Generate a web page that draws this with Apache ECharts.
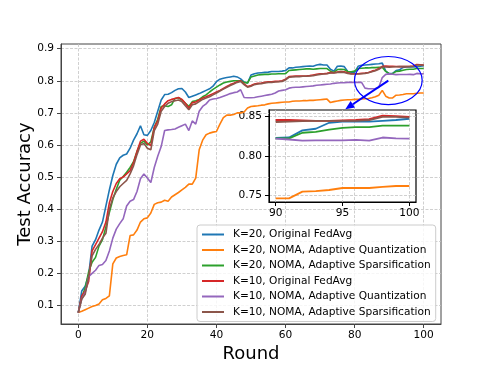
<!DOCTYPE html>
<html lang="en">
<head>
    <meta charset="UTF-8">
    <title>Test Accuracy vs Round</title>
    <script src="https://cdn.jsdelivr.net/npm/echarts@6/dist/echarts.min.js"></script>
    <style>
        body { margin: 0; background: #fff; }
        #main { width: 490px; height: 368px; }
    </style>
</head>
<body>
    <div id="main"></div>
    <script>
        // accuracy per round (rounds 0..100)
        const accK20FedAvg = [
            0.078, 0.145, 0.160, 0.195, 0.285, 0.305, 0.335, 0.360, 0.410, 0.460,
            0.505, 0.540, 0.560, 0.568, 0.572, 0.590, 0.615, 0.635, 0.660, 0.632,
            0.630, 0.645, 0.670, 0.705, 0.740, 0.757, 0.758, 0.763, 0.770, 0.775,
            0.776, 0.765, 0.748, 0.752, 0.756, 0.760, 0.765, 0.770, 0.775, 0.783,
            0.797, 0.805, 0.808, 0.810, 0.812, 0.814, 0.812, 0.806, 0.796, 0.793,
            0.818, 0.822, 0.824, 0.825, 0.826, 0.827, 0.829, 0.829, 0.829, 0.830,
            0.832, 0.840, 0.840, 0.842, 0.843, 0.844, 0.845, 0.846, 0.845, 0.849,
            0.851, 0.849, 0.849, 0.836, 0.830, 0.845, 0.846, 0.844, 0.829, 0.827,
            0.826, 0.845, 0.848, 0.849, 0.850, 0.851, 0.852, 0.853, 0.855, 0.830,
            0.8225, 0.823, 0.832, 0.834, 0.8415, 0.843, 0.843, 0.843, 0.844, 0.845, 0.8466
        ];
        const accK20Quant = [
            0.078, 0.082, 0.087, 0.092, 0.097, 0.100, 0.105, 0.118, 0.122, 0.130,
            0.230, 0.248, 0.253, 0.256, 0.258, 0.318, 0.320, 0.335, 0.360, 0.370,
            0.373, 0.388, 0.415, 0.420, 0.422, 0.428, 0.425, 0.438, 0.445, 0.452,
            0.460, 0.468, 0.478, 0.478, 0.497, 0.585, 0.615, 0.632, 0.637, 0.640,
            0.642, 0.665, 0.685, 0.693, 0.693, 0.695, 0.700, 0.700, 0.703, 0.715,
            0.720, 0.721, 0.722, 0.724, 0.725, 0.728, 0.730, 0.731, 0.732, 0.733,
            0.734, 0.734, 0.736, 0.737, 0.737, 0.738, 0.738, 0.739, 0.739, 0.740,
            0.741, 0.742, 0.743, 0.732, 0.735, 0.737, 0.739, 0.740, 0.741, 0.741,
            0.742, 0.742, 0.743, 0.744, 0.745, 0.747, 0.750, 0.755, 0.770, 0.752,
            0.7465, 0.7465, 0.755, 0.7555, 0.757, 0.7595, 0.7595, 0.7595, 0.761, 0.762, 0.762
        ];
        const accK20Sparse = [
            0.078, 0.125, 0.155, 0.205, 0.235, 0.250, 0.285, 0.305, 0.345, 0.390,
            0.430, 0.462, 0.490, 0.502, 0.515, 0.530, 0.548, 0.580, 0.605, 0.612,
            0.600, 0.610, 0.655, 0.680, 0.720, 0.722, 0.720, 0.725, 0.745, 0.747,
            0.740, 0.730, 0.720, 0.735, 0.738, 0.742, 0.750, 0.756, 0.765, 0.773,
            0.780, 0.787, 0.793, 0.796, 0.798, 0.800, 0.800, 0.800, 0.795, 0.793,
            0.812, 0.815, 0.818, 0.819, 0.820, 0.820, 0.821, 0.821, 0.822, 0.822,
            0.822, 0.832, 0.833, 0.834, 0.835, 0.836, 0.837, 0.837, 0.836, 0.837,
            0.838, 0.838, 0.838, 0.830, 0.826, 0.835, 0.836, 0.835, 0.829, 0.828,
            0.830, 0.838, 0.839, 0.840, 0.840, 0.841, 0.841, 0.842, 0.842, 0.829,
            0.822, 0.822, 0.829, 0.830, 0.833, 0.835, 0.836, 0.836, 0.838, 0.838, 0.838
        ];
        const accK10FedAvg = [
            0.078, 0.130, 0.145, 0.175, 0.270, 0.290, 0.310, 0.330, 0.360, 0.420,
            0.455, 0.480, 0.495, 0.500, 0.510, 0.520, 0.545, 0.580, 0.612, 0.618,
            0.605, 0.598, 0.655, 0.675, 0.715, 0.728, 0.738, 0.742, 0.745, 0.748,
            0.742, 0.730, 0.715, 0.732, 0.734, 0.740, 0.746, 0.750, 0.755, 0.760,
            0.765, 0.770, 0.776, 0.782, 0.788, 0.792, 0.797, 0.800, 0.790, 0.782,
            0.785, 0.790, 0.792, 0.793, 0.795, 0.797, 0.797, 0.798, 0.798, 0.800,
            0.805, 0.813, 0.814, 0.815, 0.815, 0.815, 0.815, 0.816, 0.818, 0.820,
            0.822, 0.822, 0.823, 0.826, 0.825, 0.827, 0.829, 0.828, 0.825, 0.822,
            0.822, 0.822, 0.823, 0.824, 0.826, 0.830, 0.833, 0.838, 0.845, 0.846,
            0.845, 0.845, 0.8445, 0.844, 0.844, 0.8445, 0.845, 0.846, 0.8505, 0.850, 0.849
        ];
        const accK10Quant = [
            0.078, 0.120, 0.140, 0.190, 0.200, 0.210, 0.225, 0.228, 0.240, 0.270,
            0.310, 0.338, 0.355, 0.370, 0.410, 0.425, 0.430, 0.455, 0.495, 0.510,
            0.497, 0.483, 0.530, 0.565, 0.595, 0.645, 0.647, 0.648, 0.650, 0.655,
            0.660, 0.665, 0.645, 0.675, 0.665, 0.705, 0.720, 0.728, 0.740, 0.743,
            0.745, 0.748, 0.752, 0.756, 0.760, 0.763, 0.765, 0.772, 0.748, 0.747,
            0.747, 0.748, 0.750, 0.752, 0.754, 0.756, 0.758, 0.762, 0.768, 0.770,
            0.772, 0.777, 0.779, 0.780, 0.780, 0.781, 0.782, 0.783, 0.784, 0.786,
            0.787, 0.788, 0.789, 0.790, 0.792, 0.793, 0.794, 0.794, 0.795, 0.795,
            0.795, 0.795, 0.795, 0.777, 0.775, 0.775, 0.776, 0.780, 0.810, 0.820,
            0.8215, 0.8205, 0.819, 0.8195, 0.8195, 0.8195, 0.820, 0.819, 0.823, 0.822, 0.8215
        ];
        const accK10Sparse = [
            0.078, 0.120, 0.135, 0.190, 0.255, 0.275, 0.290, 0.310, 0.325, 0.400,
            0.435, 0.455, 0.470, 0.480, 0.490, 0.510, 0.535, 0.570, 0.600, 0.605,
            0.590, 0.585, 0.645, 0.665, 0.705, 0.720, 0.730, 0.735, 0.738, 0.740,
            0.735, 0.722, 0.710, 0.725, 0.728, 0.735, 0.742, 0.746, 0.750, 0.756,
            0.762, 0.768, 0.774, 0.780, 0.785, 0.790, 0.795, 0.798, 0.788, 0.780,
            0.783, 0.788, 0.790, 0.791, 0.793, 0.795, 0.795, 0.796, 0.797, 0.798,
            0.803, 0.811, 0.812, 0.813, 0.813, 0.814, 0.814, 0.815, 0.816, 0.818,
            0.820, 0.821, 0.822, 0.824, 0.824, 0.826, 0.827, 0.826, 0.823, 0.821,
            0.821, 0.821, 0.822, 0.823, 0.825, 0.828, 0.831, 0.836, 0.843, 0.843,
            0.8425, 0.843, 0.8435, 0.844, 0.844, 0.844, 0.844, 0.845, 0.849, 0.849, 0.848
        ];

        const seriesNames = [
            'K=20, Original FedAvg',
            'K=20, NOMA, Adaptive Quantization',
            'K=20, NOMA, Adaptive Sparsification',
            'K=10, Original FedAvg',
            'K=10, NOMA, Adaptive Quantization',
            'K=10, NOMA, Adaptive Sparsification'
        ];
        const seriesData = [accK20FedAvg, accK20Quant, accK20Sparse, accK10FedAvg, accK10Quant, accK10Sparse];
        const colors = ['#1f77b4', '#ff7f0e', '#2ca02c', '#d62728', '#9467bd', '#8c564b'];

        const xTicks = [0, 20, 40, 60, 80, 100];
        const yTicks = [0.1, 0.2, 0.3, 0.4, 0.5, 0.6, 0.7, 0.8, 0.9];
        const insetXTicks = [90, 95, 100];
        const insetYTicks = [0.75, 0.80, 0.85];
        const insetStart = 90;

        // zoom annotation, in main-axes data units
        const zoomCenter = [89.75, 0.8006];
        const zoomRadius = [9.8, 0.075];
        const arrowEnd = [77.3, 0.7114];

        const font = 'DejaVu Sans';
        const gridLine = { show: true, lineStyle: { type: [3, 1.5], color: '#c4c4c4', width: 0.8 } };

        function toPairs(arr, from) {
            return arr.slice(from).map((v, i) => [from + i, v]);
        }

        const chart = echarts.init(document.getElementById('main'));

        const series = [];
        seriesData.forEach((arr, i) => {
            series.push({
                name: seriesNames[i], type: 'line', xAxisIndex: 0, yAxisIndex: 0,
                data: toPairs(arr, 0), showSymbol: false, symbol: 'none',
                lineStyle: { width: 1.6, color: colors[i] }, itemStyle: { color: colors[i] },
                z: 2 + i
            });
        });
        seriesData.forEach((arr, i) => {
            series.push({
                name: seriesNames[i], type: 'line', xAxisIndex: 1, yAxisIndex: 1,
                data: toPairs(arr, insetStart), showSymbol: false, symbol: 'none',
                lineStyle: { width: 1.8, color: colors[i] }, itemStyle: { color: colors[i] },
                z: 2 + i
            });
        });

        const option = {
            animation: false,
            backgroundColor: '#fff',
            textStyle: { fontFamily: font },
            grid: [
                { left: 61, top: 44, right: 49, bottom: 41, show: true, borderColor: '#444', borderWidth: 1 },
                { left: 269, top: 110, right: 74, bottom: 166, show: true, borderColor: '#000', borderWidth: 1.2 }
            ],
            xAxis: [
                {
                    type: 'value', gridIndex: 0, min: -5, max: 105,
                    name: 'Round', nameLocation: 'middle', nameGap: 21, nameMoveOverlap: false,
                    nameTextStyle: { fontSize: 18, color: '#000', fontFamily: font },
                    axisLine: { show: true, onZero: false, lineStyle: { color: '#444' } },
                    axisTick: { show: true, length: 4, customValues: xTicks, lineStyle: { color: '#444' } },
                    axisLabel: { customValues: xTicks, fontSize: 10.6, color: '#000', margin: 6, fontFamily: font },
                    splitLine: gridLine
                },
                {
                    type: 'value', gridIndex: 1, min: 89.5, max: 100.5,
                    axisLine: { show: true, onZero: false, lineStyle: { color: '#000' } },
                    axisTick: { show: true, length: 4, customValues: insetXTicks, lineStyle: { color: '#000' } },
                    axisLabel: { customValues: insetXTicks, fontSize: 10.6, color: '#000', margin: 6, fontFamily: font },
                    splitLine: gridLine
                }
            ],
            yAxis: [
                {
                    type: 'value', gridIndex: 0, min: 0.0425, max: 0.9145,
                    name: 'Test Accuracy', nameLocation: 'middle', nameGap: 27, nameMoveOverlap: false,
                    nameTextStyle: { fontSize: 18, color: '#000', fontFamily: font },
                    axisLine: { show: true, onZero: false, lineStyle: { color: '#444' } },
                    axisTick: { show: true, length: 4, customValues: yTicks, lineStyle: { color: '#444' } },
                    axisLabel: {
                        customValues: yTicks, fontSize: 10.6, color: '#000', margin: 7, fontFamily: font,
                        formatter: v => v.toFixed(1)
                    },
                    splitLine: gridLine
                },
                {
                    type: 'value', gridIndex: 1, min: 0.7419, max: 0.8576,
                    axisLine: { show: true, onZero: false, lineStyle: { color: '#000' } },
                    axisTick: { show: true, length: 4, customValues: insetYTicks, lineStyle: { color: '#000' } },
                    axisLabel: {
                        customValues: insetYTicks, fontSize: 10.6, color: '#000', margin: 7, fontFamily: font,
                        formatter: v => v.toFixed(2)
                    },
                    splitLine: gridLine
                }
            ],
            legend: {
                data: seriesNames, orient: 'vertical', left: 197, top: 225,
                icon: 'rect', itemWidth: 22, itemHeight: 2, itemGap: 2.5,
                padding: [3, 5, 3, 5],
                backgroundColor: 'rgba(255,255,255,0.8)', borderColor: '#cccccc', borderWidth: 1, borderRadius: 3,
                textStyle: { fontFamily: font, fontSize: 10.6, color: '#000', lineHeight: 13, padding: [0, 0, 0, 4] }
            },
            series: series
        };

        chart.setOption(option);

        // ellipse + arrow pointing to the inset
        const c = chart.convertToPixel({ gridIndex: 0 }, zoomCenter);
        const edge = chart.convertToPixel({ gridIndex: 0 }, [zoomCenter[0] + zoomRadius[0], zoomCenter[1] + zoomRadius[1]]);
        const rx = Math.abs(edge[0] - c[0]);
        const ry = Math.abs(edge[1] - c[1]);
        const end = chart.convertToPixel({ gridIndex: 0 }, arrowEnd);
        const dx = end[0] - c[0], dy = end[1] - c[1];
        const len = Math.sqrt(dx * dx + dy * dy);
        const ux = dx / len, uy = dy / len;
        const headLen = 9, headW = 4;
        const base = [end[0] - ux * headLen, end[1] - uy * headLen];

        chart.setOption({
            graphic: [
                {
                    type: 'ellipse', z: 100,
                    shape: { cx: c[0], cy: c[1], rx: rx, ry: ry },
                    style: { fill: 'none', stroke: '#0000ff', lineWidth: 1.2 }
                },
                {
                    type: 'line', z: 100,
                    shape: { x1: c[0], y1: c[1], x2: base[0], y2: base[1] },
                    style: { stroke: '#0000ff', lineWidth: 2 }
                },
                {
                    type: 'polygon', z: 100,
                    shape: {
                        points: [
                            end,
                            [base[0] - uy * headW, base[1] + ux * headW],
                            [base[0] + uy * headW, base[1] - ux * headW]
                        ]
                    },
                    style: { fill: '#0000ff' }
                }
            ]
        });
    </script>
</body>
</html>
